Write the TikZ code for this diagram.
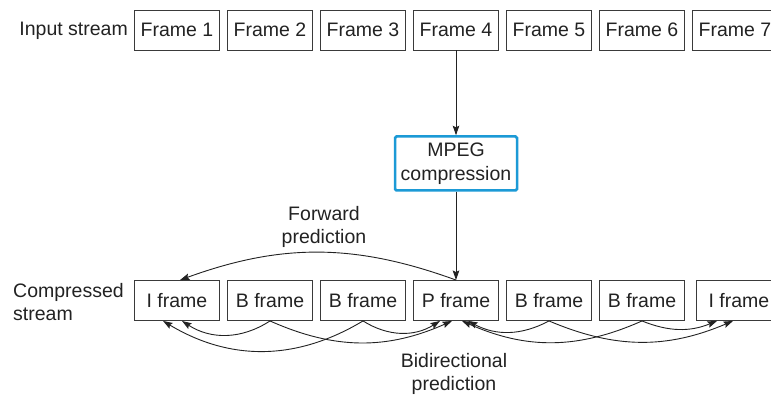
\documentclass[tikz,border=0pt]{standalone}
\usepackage{fontspec}
\setmainfont{Liberation Sans}
\usetikzlibrary{arrows.meta}
\definecolor{grisTexto}{HTML}{222222}
\definecolor{grisMarco}{HTML}{3A3A3A}
\definecolor{azulMPEG}{HTML}{1C9AD6}

\begin{document}
\begin{tikzpicture}[x=1pt,y=1pt,>={Stealth[length=9.5pt,width=6.5pt,inset=1.5pt]},
  every node/.style={font=\fontsize{19.5}{23.5}\selectfont,text=grisTexto},
  cuadro/.style={draw=grisMarco,line width=.9pt,minimum width=85pt,minimum height=40pt,inner sep=0pt},
  rotulo/.style={align=center,inner sep=0pt},
  flecha/.style={->,draw=grisTexto,line width=.9pt}]
  \useasboundingbox (0,0) rectangle (771,396);
  % input stream
  \node[rotulo,anchor=east] (entrada) at (128,365) {Input stream};
  \foreach \i in {1,...,7}
    \node[cuadro] (f\i) at ({177+93*(\i-1)},366) {Frame \i};
  % compression
  \node[rotulo,draw=azulMPEG,line width=2.5pt,rounded corners=1.5pt,
    minimum width=122pt,minimum height=54pt] (mpeg) at (456,232.5) {MPEG\\compression};
  % compressed stream
  \node[rotulo,anchor=west,align=left] (salida) at (13,94) {Compressed\\stream};
  \node[cuadro] (i1) at (177,95.5) {I frame};
  \node[cuadro] (b1) at (270,95.5) {B frame};
  \node[cuadro] (b2) at (363,95.5) {B frame};
  \node[cuadro] (p)  at (456,95.5) {P frame};
  \node[cuadro] (b3) at (549,95.5) {B frame};
  \node[cuadro] (b4) at (642,95.5) {B frame};
  \node[cuadro] (i2) at (739,95.5) {I frame};
  \draw[flecha] (f4.south) -- (mpeg.north);
  \draw[flecha] (mpeg.south) -- (p.north);
  % forward prediction
  \draw[flecha] (p.north) to[bend right=20] ([xshift=3pt]i1.north);
  \node[rotulo] (adelante) at (324,169) {Forward\\prediction};
  % bidirectional prediction
  \draw[flecha] (b1.south) to[bend left=33] ([xshift=5pt]i1.south);
  \draw[flecha] (b1.south) to[bend right=24] ([xshift=-4pt]p.south);
  \draw[flecha] (b2.south) to[bend left=31] ([xshift=-14pt]i1.south);
  \draw[flecha] (b2.south) to[bend right=32] ([xshift=-16pt]p.south);
  \draw[flecha] (b3.south) to[bend left=28] ([xshift=12pt]p.south);
  \draw[flecha] (b3.south) to[bend right=23] ([xshift=-6pt]i2.south);
  \draw[flecha] (b4.south) to[bend left=24] ([xshift=6pt]p.south);
  \draw[flecha] (b4.south) to[bend right=22] ([xshift=-22pt]i2.south);
  \node[rotulo] (bidir) at (454,22) {Bidirectional\\prediction};
\end{tikzpicture}
\end{document}
